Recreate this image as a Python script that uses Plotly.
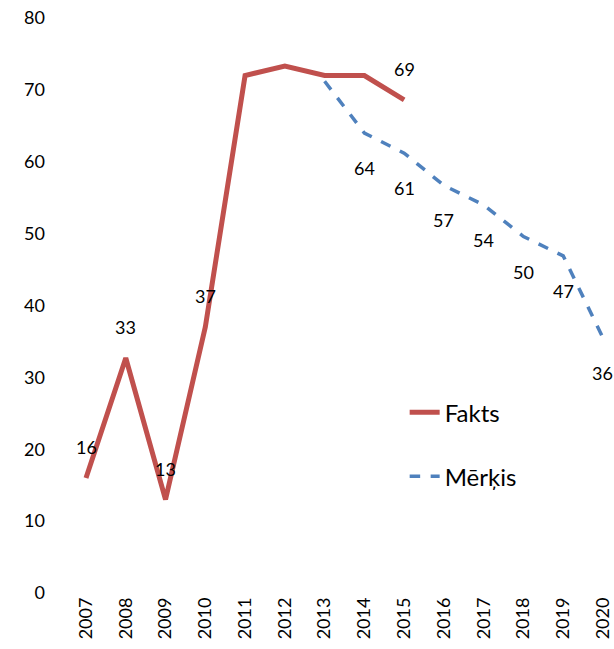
import plotly.graph_objects as go

years = list(range(2007, 2021))
fakts_years = [2007, 2008, 2009, 2010, 2011, 2012, 2013, 2014, 2015]
fakts_vals = [16, 32.7, 13, 37, 72, 73.3, 72, 72, 68.6]
fakts_labels = ["16", "33", "13", "37", "", "", "", "", "69"]

merkis_years = [2013, 2014, 2015, 2016, 2017, 2018, 2019, 2020]
merkis_vals = [71.2, 64, 61.2, 56.7, 54, 49.6, 46.9, 35.5]
merkis_labels = ["", "64", "61", "57", "54", "50", "47", "36"]

FONT = "Lato, Open Sans, sans-serif"
RED = "#C0504D"
BLUE = "#4F81BD"

fig = go.Figure()
fig.add_trace(go.Scatter(x=fakts_years, y=fakts_vals, mode="lines", name="Fakts",
                         legendgroup="a",
                         line=dict(color=RED, width=5)))
fig.add_trace(go.Scatter(x=merkis_years, y=merkis_vals, mode="lines", name="Mērķis",
                         legendgroup="b",
                         line=dict(color=BLUE, width=3.5, dash="dash")))

anns = []
for x, y, t in zip(fakts_years, fakts_vals, fakts_labels):
    if t:
        anns.append(dict(x=x, y=y, text=t, showarrow=False, yshift=31,
                         font=dict(size=18, color="#000", family=FONT)))
for x, y, t in zip(merkis_years, merkis_vals, merkis_labels):
    if t:
        anns.append(dict(x=x, y=y, text=t, showarrow=False, yshift=-35,
                         font=dict(size=18, color="#000", family=FONT)))

fig.update_layout(
    width=614, height=649,
    margin=dict(l=66, r=0, t=18, b=56),
    paper_bgcolor="white", plot_bgcolor="white",
    font=dict(family=FONT, size=18, color="#000"),
    annotations=anns,
    showlegend=True,
    legend=dict(x=0.618, y=0.353, xanchor="left", yanchor="top",
                font=dict(size=24, family=FONT, color="#000"),
                bgcolor="rgba(0,0,0,0)", traceorder="grouped",
                tracegroupgap=30),
    xaxis=dict(range=[2006.497, 2020.277], tickmode="array", tickvals=years,
               ticktext=[str(y) for y in years], tickangle=-90,
               showgrid=False, zeroline=False, showline=False, ticks="",
               automargin=False, tickfont=dict(size=18),
               ticklabeloverflow="allow"),
    yaxis=dict(range=[0, 80], tickvals=[0, 10, 20, 30, 40, 50, 60, 70, 80],
               showgrid=False, zeroline=False, showline=False, ticks="",
               automargin=False, ticklabelstandoff=20, tickfont=dict(size=18),
               ticklabeloverflow="allow"),
)

fig.write_html("out.html", config={"displayModeBar": False},
               post_script="document.body.style.margin='0';document.body.style.overflow='hidden';")
